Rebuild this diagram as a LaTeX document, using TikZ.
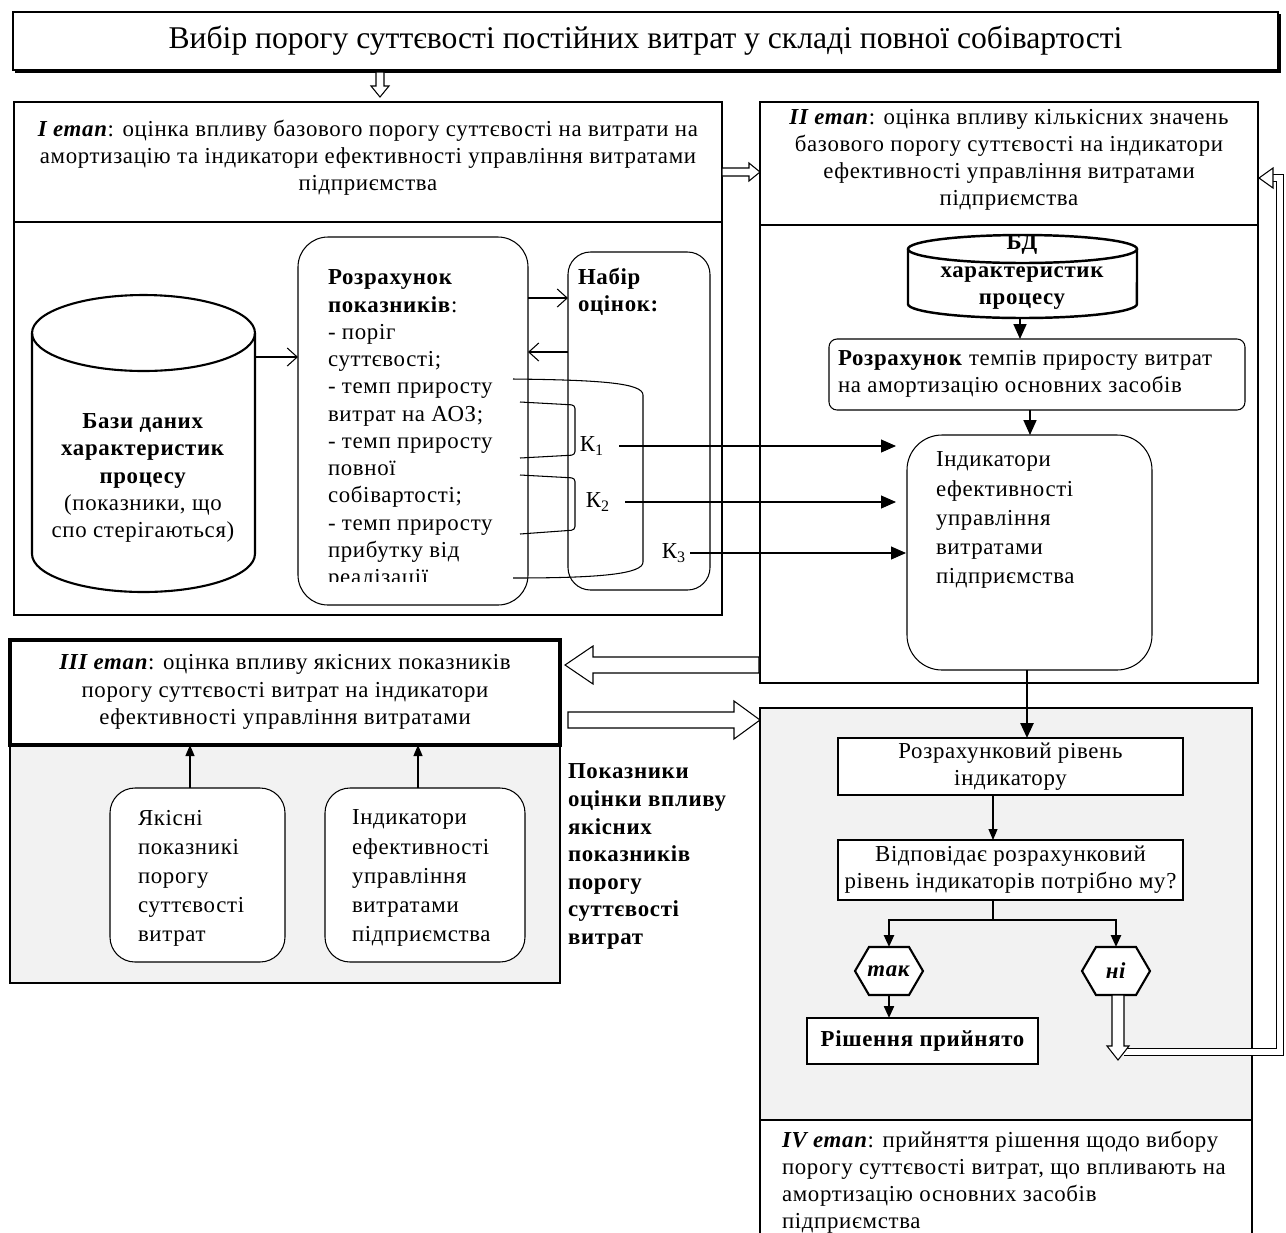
\documentclass[tikz,border=0pt]{standalone}
\usepackage{fontspec}
\setmainfont{Liberation Serif}[LetterSpace=3]
\usetikzlibrary{arrows.meta,calc}
\definecolor{lgray}{HTML}{F2F2F2}
\newcommand{\fs}{\fontsize{13}{15.5}\selectfont}
\newcommand{\fsb}{\fontsize{13}{16.6}\selectfont}
\newcommand{\BX}[6]{\node[#1, anchor=north west, minimum width={(#5-#3)*0.02cm}, minimum height={(#6-#4)*0.02cm}] (#2) at (#3,#4) {};}
% hollow arrows: down (x,y1,y2,w,H,L), right (y,x1,x2,w,H,L), left (y,x1,x2,w,H,L)
\newcommand{\HD}[6]{\draw[line width=0.6pt, fill=white] ({#1-#4},#2) -- ({#1-#4},{#3-#6}) -- ({#1-#5},{#3-#6}) -- (#1,#3) -- ({#1+#5},{#3-#6}) -- ({#1+#4},{#3-#6}) -- ({#1+#4},#2) -- cycle;}
\newcommand{\HR}[6]{\draw[line width=0.6pt, fill=white] (#2,{#1-#4}) -- ({#3-#6},{#1-#4}) -- ({#3-#6},{#1-#5}) -- (#3,#1) -- ({#3-#6},{#1+#5}) -- ({#3-#6},{#1+#4}) -- (#2,{#1+#4}) -- cycle;}
\newcommand{\HL}[6]{\draw[line width=0.6pt, fill=white] (#2,{#1-#4}) -- ({#3+#6},{#1-#4}) -- ({#3+#6},{#1-#5}) -- (#3,#1) -- ({#3+#6},{#1+#5}) -- ({#3+#6},{#1+#4}) -- (#2,{#1+#4}) -- cycle;}
\newcommand{\HEX}[2]{\draw[line width=1.2pt, fill=white] ({#1-34},#2) -- ({#1-20},{#2-24}) -- ({#1+20},{#2-24}) -- ({#1+34},#2) -- ({#1+20},{#2+24}) -- ({#1-20},{#2+24}) -- cycle;}
\begin{document}
\begin{tikzpicture}[x=0.02cm,y=-0.02cm,
  every node/.style={font=\fs, inner sep=0pt, outer sep=0pt},
  frame/.style={draw, line width=1.2pt},
  thinbox/.style={draw, line width=0.6pt, fill=white},
  rbox/.style={draw, line width=0.6pt, rounded corners=#1, fill=white},
  oarr/.style={-{Straight Barb[length=2mm,width=3.6mm]}, line width=0.6pt},
  farr/.style={-{Triangle[length=3mm,width=2.6mm]}, line width=0.6pt},
  sarr/.style={-{Triangle[length=2.2mm,width=1.8mm]}, line width=0.6pt},
  txt/.style={align=left, anchor=north west},
  ctxt/.style={align=center}]
\useasboundingbox (0,0) rectangle (1286,1232);

% ---------- title ----------
\BX{frame}{titlebox}{13}{12}{1278}{70}
\draw[line width=1.6pt] ($(titlebox.south west)+(2,1.5)$) -- ($(titlebox.south east)+(1.5,1.5)$) -- ($(titlebox.north east)+(1.5,2)$);
\node[font=\fontsize{18}{21}\selectfont\addfontfeature{LetterSpace=0}] (title) at (titlebox.center) {Вибір порогу суттєвості постійних витрат у складі повної собівартості};
\HD{380}{72}{97}{4}{9}{11}

% ---------- stage I ----------
\BX{frame}{s1h}{14}{102}{722}{222}
\BX{frame}{s1b}{14}{222}{722}{615}
\node[ctxt] (s1t) at (368,158) {\textbf{\textit{I етап}}: оцінка впливу базового порогу суттєвості на витрати на\\амортизацію та індикатори ефективності управління витратами\\підприємства};
\HR{172}{722}{760}{4}{9}{11}

% cylinder
\draw[line width=1.2pt, fill=white] (32,333) -- (32,554) arc[start angle=180,end angle=360,x radius=2.23cm,y radius=0.76cm] -- (255,333);
\draw[line width=1.2pt] (143.5,333) ellipse [x radius=2.23cm, y radius=0.76cm];
\node[ctxt, font=\fontsize{13}{15.6}\selectfont] (dbtext) at (143,478) {\textbf{Бази даних}\\\textbf{характеристик}\\\textbf{процесу}\\(показники, що\\спо стерігаються)};
\coordinate (cylR) at (255,357);

% calculation box
\BX{rbox=0.6cm}{calc}{298}{237}{528}{605}
\begin{scope}
\clip (300,240) rectangle (526,581);
\node[txt] (calct) at (328,270) {\textbf{Розрахунок}\\\textbf{показників}:\\- поріг\\суттєвості;\\- темп приросту\\витрат на АОЗ;\\- темп приросту\\повної\\собівартості;\\- темп приросту\\прибутку від\\реалізації};
\end{scope}
\draw[oarr] (cylR) -- (calc.west |- cylR);

% set of estimates
\BX{rbox=0.45cm}{nabir}{568}{252}{710}{590}
\node[txt, font=\bfseries\fs] (nabirt) at (578,268) {Набір\\оцінок:};
\draw[oarr] (calc.east |- 0,298) -- (nabir.west |- 0,298);
\draw[oarr] (nabir.west |- 0,352) -- (calc.east |- 0,352);

% brackets
\draw[line width=0.6pt] (513,379) .. controls (600,380) and (643,383) .. (643,395) -- (643,562) .. controls (643,574) and (600,578) .. (513,578);
\draw[line width=0.6pt, rounded corners=2pt] (520,402) -- (575,405) -- (575,455) -- (520,458);
\draw[line width=0.6pt, rounded corners=2pt] (520,475) -- (575,478) -- (575,530) -- (520,534);
\node (k1) at (592,446) {К\textsubscript{1}};
\node (k2) at (598,502) {К\textsubscript{2}};
\node (k3) at (674,553) {К\textsubscript{3}};

% ---------- stage II ----------
\BX{frame}{s2h}{760}{102}{1258}{225}
\BX{frame}{s2b}{760}{225}{1258}{683}
\node[ctxt] (s2t) at (1009,160) {\textbf{\textit{II етап}}: оцінка впливу кількісних значень\\базового порогу суттєвості на індикатори\\ефективності управління витратами\\підприємства};

\draw[line width=1.4pt, fill=white] (908,249) -- (908,304) arc[start angle=180,end angle=360,x radius=2.29cm,y radius=0.28cm] -- (1137,249);
\draw[line width=1.4pt] (1022.5,249) ellipse [x radius=2.29cm,y radius=0.28cm];
\node[ctxt, font=\bfseries\fontsize{13}{15.9}\selectfont] (bd) at (1022,272) {БД\\характеристик\\процесу};
\coordinate (bdB) at (1020,318);

\BX{rbox=0.16cm}{rozr2}{829}{339}{1245}{410}
\node[txt] (rozr2t) at (838,350) {\textbf{Розрахунок} темпів приросту витрат\\на амортизацію основних засобів};
\draw[farr, line width=1pt] (bdB) -- (rozr2.north -| bdB);

\BX{rbox=0.7cm}{ind}{907}{435}{1152}{670}
\node[txt, font=\fsb] (indt) at (936,452) {Індикатори\\ефективності\\управління\\витратами\\підприємства};
\draw[farr, line width=1pt] (rozr2.south -| 1030,0) -- (ind.north -| 1030,0);

\draw[farr] ([xshift=0.3cm]k1.east) -- ([xshift=-0.22cm]k1.east -| ind.west);
\draw[farr] ([xshift=0.3cm]k2.east) -- ([xshift=-0.22cm]k2.east -| ind.west);
\draw[farr] ([xshift=0.08cm]k3.east) -- ([xshift=-0.02cm]k3.east -| ind.west);

% ---------- stage III ----------
\BX{frame, fill=lgray, line width=1pt}{s3b}{10}{745}{560}{983}
\BX{frame, fill=white, line width=2pt}{s3h}{10}{640}{560}{745}
\node[ctxt] (s3t) at (285,692) {\textbf{\textit{III етап}}: оцінка впливу якісних показників\\порогу суттєвості витрат на індикатори\\ефективності управління витратами};

\BX{rbox=0.5cm}{jak}{110}{788}{285}{962}
\node[txt, font=\fsb] (jakt) at (138,810) {Якісні\\показникі\\порогу\\суттєвості\\витрат};
\BX{rbox=0.5cm}{ind3}{325}{788}{525}{962}
\node[txt, font=\fsb] (ind3t) at (352,810) {Індикатори\\ефективності\\управління\\витратами\\підприємства};
\draw[sarr] (jak.north -| 190,0) -- (s3h.south -| 190,0);
\draw[sarr] (ind3.north -| 418,0) -- (s3h.south -| 418,0);

\node[txt, font=\bfseries\fontsize{13}{15.7}\selectfont] (pok) at (568,764) {Показники\\оцінки впливу\\якісних\\показників\\порогу\\суттєвості\\витрат};

\HL{665}{759}{565}{8}{19}{28}
\HR{720}{568}{760}{8}{19}{26}

% ---------- stage IV ----------
\BX{frame, fill=lgray, line width=1.5pt}{s4b}{760}{708}{1252}{1120}
\BX{frame, fill=white, line width=1.5pt}{s4h}{760}{1120}{1252}{1245}
\node[txt, font=\fontsize{13}{15.3}\selectfont] (s4t) at (782,1131) {\textbf{\textit{IV етап}}: прийняття рішення щодо вибору\\порогу суттєвості витрат, що впливають на\\амортизацію основних засобів\\підприємства};

\BX{thinbox}{riven}{838}{738}{1183}{795}
\node[ctxt] (rivent) at (riven.center) {Розрахунковий рівень\\індикатору};
\draw[farr, line width=1.4pt] (ind.south -| 1027,0) -- (riven.north -| 1027,0);

\BX{thinbox}{vidp}{838}{840}{1183}{900}
\node[ctxt] (vidpt) at (vidp.center) {Відповідає розрахунковий\\рівень індикаторів потрібно му?};
\draw[sarr] (riven.south -| 993,0) -- (vidp.north -| 993,0);

\HEX{889}{971}
\node (tak) at (889,971) {\textbf{\textit{так}}};
\HEX{1116}{971}
\node (ni) at (1116,971) {\textbf{\textit{ні}}};
\coordinate (takT) at (889,947);
\coordinate (takB) at (889,995);
\coordinate (niT) at (1116,947);
\coordinate (br) at (993,920);
\draw[line width=1.4pt] (vidp.south -| br) -- (br);
\draw[line width=1.4pt, -{Triangle[length=2.4mm,width=2mm]}] (br) -| (takT);
\draw[line width=1.4pt, -{Triangle[length=2.4mm,width=2mm]}] (br) -| (niT);

\BX{frame, fill=white}{rish}{807}{1018}{1038}{1064}
\node[font=\bfseries\fontsize{13}{16}\selectfont] (risht) at (rish.center) {Рішення прийнято};
\draw[line width=1.2pt, -{Triangle[length=2.4mm,width=2mm]}] (takB) -- (rish.north -| takB);

% return path from "ni" to stage II
\draw[double, double distance=0.12cm, line width=0.5pt] (1124,1052) -- (1280,1052) -- (1280,178) -- (1272,178);
\draw[line width=0.6pt, fill=white] (1273,168) -- (1259,178) -- (1273,188) -- cycle;
\HD{1118}{995}{1060}{6}{11}{14}
\end{tikzpicture}
\end{document}
